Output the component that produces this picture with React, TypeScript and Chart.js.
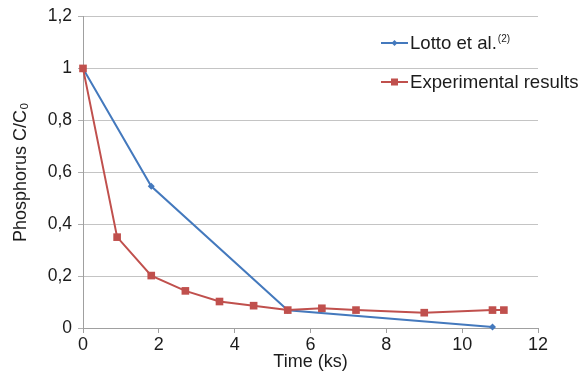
import React, { useEffect, useRef } from "react";
import { Chart, registerables } from "chart.js";

Chart.register(...registerables);

// ---- data ----
const lottoTime = [0, 1.8, 5.4, 10.8];
const lottoRatio = [1, 0.546, 0.068, 0.004];
const expTime = [0, 0.9, 1.8, 2.7, 3.6, 4.5, 5.4, 6.3, 7.2, 9.0, 10.8, 11.1];
const expRatio = [1, 0.35, 0.202, 0.143, 0.102, 0.086, 0.069, 0.076, 0.069, 0.059, 0.069, 0.069];
const xMin = 0;
const xMax = 12;
const xStep = 2;
const yMin = 0;
const yMax = 1.2;
const yStep = 0.2;
const xTitle = "Time (ks)";
const yTitle = "Phosphorus C/C\u2080";
const lottoLabel = "Lotto et al.";
const lottoRef = "(2)";
const expLabel = "Experimental results";

const BLUE = "#4479bd";
const RED = "#c0504d";
const FONT = "'Liberation Sans', Arial, Helvetica, sans-serif";
const TEXT = "#1c1c1c";

function LegendSwatch({ color, shape }: { color: string; shape: "diamond" | "square" }) {
  return (
    <svg width={27} height={12} style={{ display: "block", marginRight: 2 }}>
      <line x1={0} y1={6} x2={27} y2={6} stroke={color} strokeWidth={2} />
      {shape === "diamond" ? (
        <polygon points="13.5,3 16.5,6 13.5,9 10.5,6" fill={color} />
      ) : (
        <rect x={10} y={2.5} width={7} height={7} fill={color} />
      )}
    </svg>
  );
}

export default function App() {
  const canvasRef = useRef<HTMLCanvasElement | null>(null);

  useEffect(() => {
    if (!canvasRef.current) return;
    const fmt = (v: number) => String(Math.round(v * 10) / 10).replace(".", ",");
    const chart = new Chart(canvasRef.current, {
      type: "line",
      data: {
        datasets: [
          {
            label: lottoLabel,
            data: lottoTime.map((t, i) => ({ x: t, y: lottoRatio[i] })),
            borderColor: BLUE,
            backgroundColor: BLUE,
            borderWidth: 2,
            pointStyle: "rectRot",
            pointRadius: 3.5,
            pointBorderWidth: 0,
            tension: 0,
            clip: false,
            order: 1,
          },
          {
            label: expLabel,
            data: expTime.map((t, i) => ({ x: t, y: expRatio[i] })),
            borderColor: RED,
            backgroundColor: RED,
            borderWidth: 2,
            pointStyle: "rect",
            pointRadius: 5.4,
            pointBorderWidth: 0,
            tension: 0,
            clip: false,
            order: 0,
          },
        ],
      },
      options: {
        responsive: false,
        animation: false,
        layout: { padding: { top: 15, right: 47, left: 0, bottom: 0 } },
        plugins: { legend: { display: false }, tooltip: { enabled: false } },
        scales: {
          x: {
            type: "linear",
            min: xMin,
            max: xMax,
            afterFit: (s: any) => {
              s.height = 47;
            },
            ticks: {
              stepSize: xStep,
              color: TEXT,
              padding: 1,
              font: { family: FONT, size: 18 },
              maxRotation: 0,
            },
            grid: {
              drawOnChartArea: false,
              drawTicks: true,
              tickLength: 5,
              tickColor: "#a0a0a0",
            },
            border: { display: true, color: "#a0a0a0", width: 1 },
            title: {
              display: true,
              text: xTitle,
              color: TEXT,
              font: { family: FONT, size: 18 },
              padding: { top: 0, bottom: 2 },
            },
          },
          y: {
            type: "linear",
            min: yMin,
            max: yMax,
            afterFit: (s: any) => {
              s.width = 83;
            },
            ticks: {
              stepSize: yStep,
              color: TEXT,
              padding: 6,
              font: { family: FONT, size: 17.5 },
              callback: (v: any) => fmt(Number(v)),
            },
            grid: {
              color: "#c4c4c4",
              lineWidth: 1,
              drawTicks: true,
              tickLength: 5,
              tickColor: "#b0b0b0",
            },
            border: { display: true, color: "#a0a0a0", width: 1 },
            title: {
              display: true,
              text: yTitle,
              color: TEXT,
              font: { family: FONT, size: 18 },
              padding: { top: 10.5, bottom: 0 },
            },
          },
        },
      },
    });
    return () => chart.destroy();
  }, []);

  const rowStyle: React.CSSProperties = {
    position: "absolute",
    left: 381,
    display: "flex",
    alignItems: "center",
    height: 24,
    fontFamily: FONT,
    fontSize: 18.6,
    color: TEXT,
    whiteSpace: "nowrap",
  };

  return (
    <div style={{ position: "absolute", left: 0, top: 0, width: 585, height: 375, background: "#fff" }}>
      <canvas ref={canvasRef} width={585} height={375} style={{ display: "block" }} />
      <div style={{ ...rowStyle, top: 31 }}>
        <LegendSwatch color={BLUE} shape="diamond" />
        <span>
          {lottoLabel}
          <sup style={{ fontSize: 10, verticalAlign: "7px", marginLeft: 1 }}>{lottoRef}</sup>
        </span>
      </div>
      <div style={{ ...rowStyle, top: 70 }}>
        <LegendSwatch color={RED} shape="square" />
        <span>{expLabel}</span>
      </div>
    </div>
  );
}
